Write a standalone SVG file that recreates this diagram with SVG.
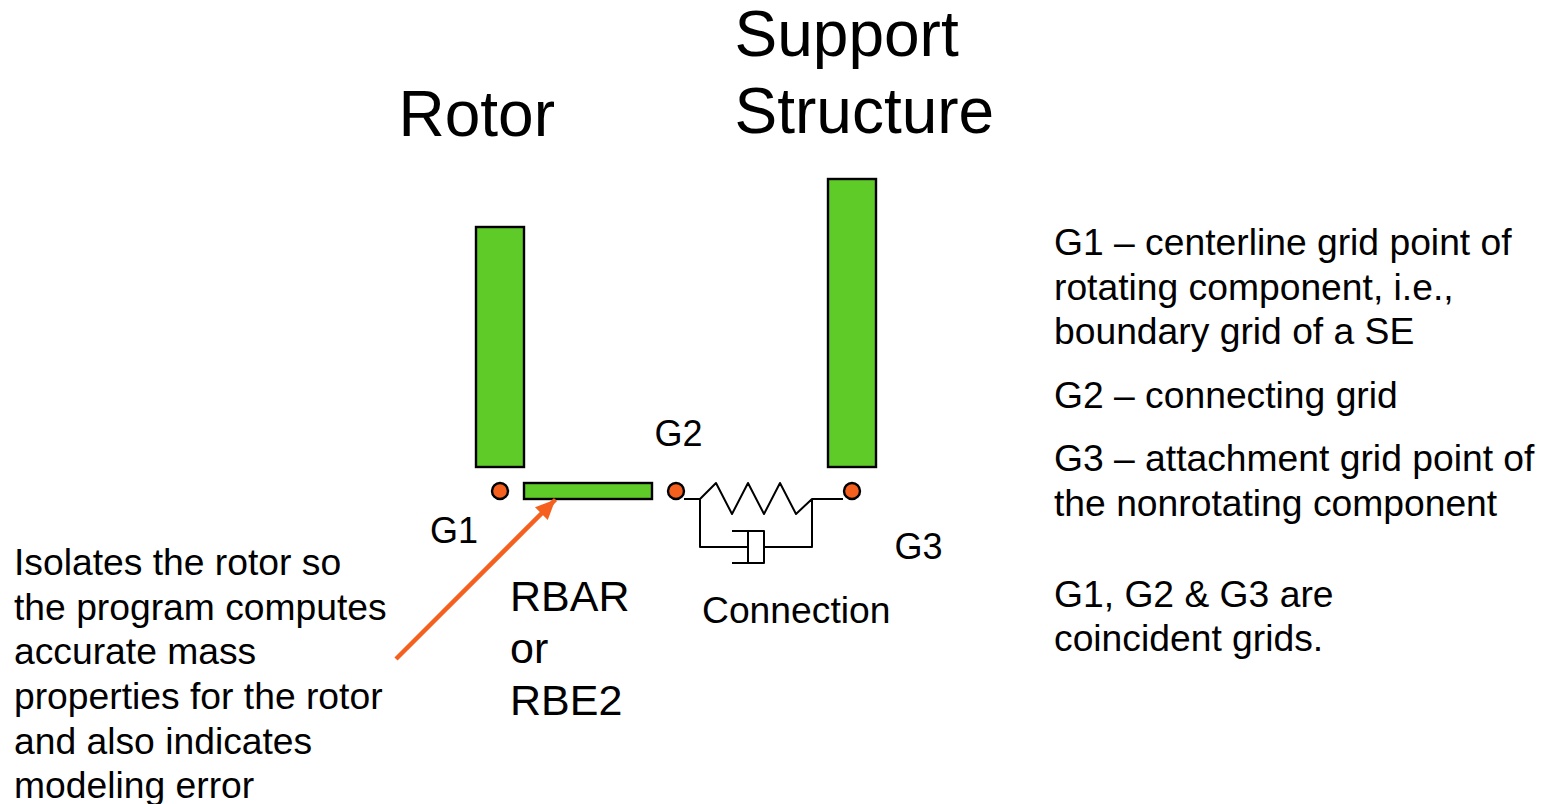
<svg xmlns="http://www.w3.org/2000/svg" width="1548" height="804" viewBox="0 0 1548 804">
<style>
text{font-family:"Liberation Sans",Arial,sans-serif;fill:#000}
.t{font-size:64px}.m{font-size:43px}.b{font-size:36px}.n{font-size:37.25px}
.g{fill:#5fcb28;stroke:#000;stroke-width:2.4}
.c{fill:#f5601f;stroke:#000;stroke-width:2.4}
.l{fill:none;stroke:#000;stroke-width:2;stroke-linejoin:round}
</style>
<defs><marker id="ah" markerUnits="userSpaceOnUse" markerWidth="24" markerHeight="24" refX="20" refY="12" orient="auto"><path d="M0 3L20 12L0 21Z" fill="#f5601f"/></marker></defs>
<rect width="1548" height="804" fill="#fff"/>
<g id="rotor"><rect class="g" x="476" y="227" width="48" height="240"/><text class="t" x="398.5" y="136">Rotor</text></g>
<g id="support"><rect class="g" x="828" y="179" width="48" height="288"/><text class="t" x="734.5" y="56">Support</text><text class="t" x="734.5" y="133">Structure</text></g>
<g id="rbar"><rect class="g" x="524" y="483" width="128" height="16"/><text class="m" x="510" y="611">RBAR</text><text class="m" x="510" y="663">or</text><text class="m" x="510" y="715">RBE2</text></g>
<g id="g1"><circle class="c" cx="500" cy="491" r="8"/><text class="b" x="430" y="543">G1</text></g>
<g id="g2"><circle class="c" cx="676" cy="491" r="8"/><text class="b" x="654.5" y="446">G2</text></g>
<g id="g3"><circle class="c" cx="852" cy="491" r="8"/><text class="b" x="894.5" y="559">G3</text></g>
<g id="connection"><path class="l" d="M684 499H700L716 483L732 514L748 483L764 514L780 483L796 514L812 499H843M700 499V547H748M812 499V547H764M732 531H764V563H732M748 531V563"/><text class="n" x="702" y="623">Connection</text></g>
<g id="connectors"><line x1="396" y1="659" x2="555.500" y2="499.500" stroke="#f5601f" stroke-width="4.500" marker-end="url(#ah)"/></g>
<g id="note-left" class="n"><text x="14" y="575">Isolates the rotor so</text><text x="14" y="620">the program computes</text><text x="14" y="664">accurate mass</text><text x="14" y="709">properties for the rotor</text><text x="14" y="754">and also indicates</text><text x="14" y="798">modeling error</text></g>
<g id="note-right" class="n"><text x="1054" y="255">G1 – centerline grid point of</text><text x="1054" y="300">rotating component, i.e.,</text><text x="1054" y="344">boundary grid of a SE</text><text x="1054" y="408">G2 – connecting grid</text><text x="1054" y="471">G3 – attachment grid point of</text><text x="1054" y="516">the nonrotating component</text><text x="1054" y="607">G1, G2 &amp; G3 are</text><text x="1054" y="651">coincident grids.</text></g>
</svg>
